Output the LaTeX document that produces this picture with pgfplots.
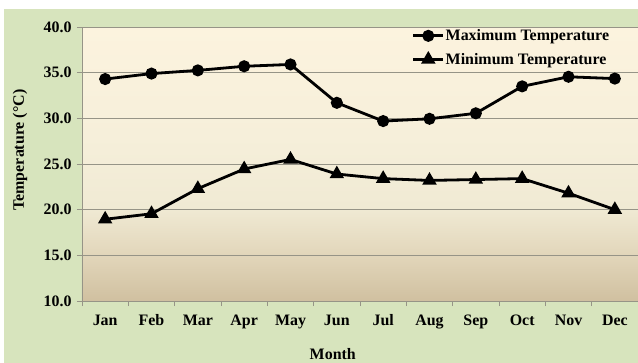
\documentclass[border=0pt]{standalone}
\usepackage{fontspec}
\setmainfont{Liberation Serif}
\usepackage{pgfplots}
\pgfplotsset{compat=1.18}
\definecolor{bggreen}{RGB}{215,228,189}
\definecolor{gridc}{RGB}{150,148,135}
\definecolor{c1}{RGB}{208,192,160}
\definecolor{c2}{RGB}{225,213,185}
\definecolor{c3}{RGB}{240,234,212}
\definecolor{c4}{RGB}{246,239,218}
\definecolor{c5}{RGB}{252,243,222}
\pgfdeclareverticalshading{plotbg}{100bp}{color(0bp)=(c1); color(25bp)=(c1); color(33bp)=(c2); color(42bp)=(c3); color(55bp)=(c4); color(75bp)=(c5); color(100bp)=(c5)}
\newcommand{\lbl}{\fontsize{16}{19}\selectfont\bfseries}
\begin{document}
\begin{tikzpicture}
\fill[white] (-82bp,-62bp) rectangle (556bp,301bp);
\fill[bggreen] (-78bp,-62bp) rectangle (556bp,292bp);
\begin{axis}[
  at={(0,0)}, anchor=south west,
  scale only axis, width=556bp, height=274bp,
  xmin=-0.5, xmax=11.5, ymin=10, ymax=40,
  axis background/.style={shade, shading=plotbg},
  xtick={0,...,11},
  xticklabels={Jan,Feb,Mar,Apr,May,Jun,Jul,Aug,Sep,Oct,Nov,Dec},
  major x tick style={draw=none},
  minor xtick={-0.5,0.5,...,11.5},
  ytick={10,15,...,40},
  tick align=outside,
  major tick length=5bp, minor tick length=5bp,
  tick style={gridc, line width=0.8bp},
  ymajorgrids, grid style={gridc, line width=0.8bp},
  axis x line*=bottom, axis y line*=left,
  axis line style={-, gridc, line width=0.8bp},
  tick label style={font=\lbl},
  xticklabel style={yshift=-5bp, text height=11bp, text depth=3.5bp},
  yticklabel style={xshift=-2bp},
  /pgf/number format/assume math mode=true,
  yticklabel style={/pgf/number format/fixed, /pgf/number format/fixed zerofill, /pgf/number format/precision=1},
  xlabel={Month},
  xlabel style={font=\lbl, at={(axis description cs:0.451,0)}, anchor=north, yshift=-44bp},
  ylabel={Temperature (°C)},
  ylabel style={font=\lbl, at={(axis description cs:-0.1115,0.551)}, anchor=center},
  legend style={at={(0.593,0.995)}, anchor=north west, draw=none, fill=none, inner sep=0pt, font=\lbl, row sep=9bp, nodes={inner sep=1bp}},
  legend cell align=left,
  legend image code/.code={\draw[mark repeat=2,mark phase=2] plot coordinates {(0bp,0bp) (15bp,0bp) (30bp,0bp)};},
]
\addplot[black, line width=2.8bp, mark=*, mark size=4.6bp] coordinates {
(0,34.3) (1,34.9) (2,35.25) (3,35.7) (4,35.9) (5,31.7) (6,29.7) (7,29.95) (8,30.55) (9,33.5) (10,34.55) (11,34.35)};
\addlegendentry{Maximum Temperature}
\addplot[black, line width=2.8bp, mark=triangle*, mark size=5.6bp] coordinates {
(0,18.95) (1,19.55) (2,22.3) (3,24.45) (4,25.5) (5,23.9) (6,23.4) (7,23.2) (8,23.3) (9,23.4) (10,21.8) (11,20.0)};
\addlegendentry{Minimum Temperature}
\end{axis}
\pgfresetboundingbox
\useasboundingbox (-82bp,-62bp) rectangle (556bp,301bp);
\end{tikzpicture}
\end{document}
